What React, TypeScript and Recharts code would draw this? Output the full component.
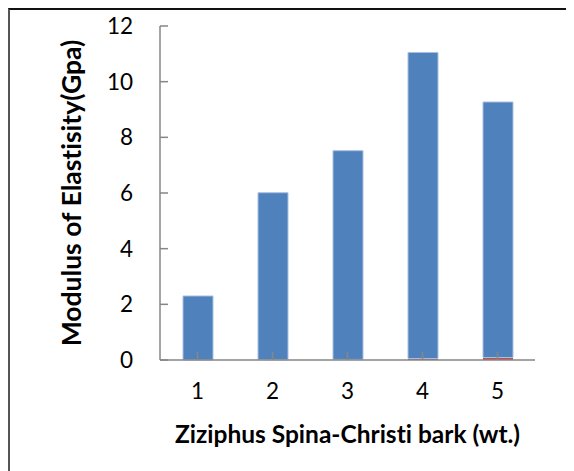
import React from 'react';
import { BarChart, Bar, XAxis, YAxis } from 'recharts';

const categories = ['1', '2', '3', '4', '5'];
const baseValues = [0, 0.01, 0.02, 0.05, 0.09];
const modulusValues = [2.3, 6.0, 7.5, 11.0, 9.18];
const yTicks = [0, 2, 4, 6, 8, 10, 12];

const data = categories.map((c, i) => ({ name: c, base: baseValues[i], modulus: modulusValues[i] }));

const font = 'Lato, "Open Sans", sans-serif';

export default function App() {
  return (
    <div style={{ width: 566, height: 463, borderTop: '2px solid #111', borderLeft: '2px solid #555', boxSizing: 'border-box', position: 'relative' }}>
      <div style={{ position: 'absolute', left: -2, top: -2 }}>
        <BarChart width={566} height={463} data={data} margin={{ top: 18, right: 39, left: 0, bottom: 0 }} barSize={30}>
          <XAxis
            dataKey="name"
            height={111}
            stroke="#868686"
            strokeWidth={1.5}
            tickSize={-8}
            tickMargin={31}
            tick={{ fontSize: 22.5, fill: '#000', fontFamily: font }}
            label={{ value: 'Ziziphus Spina-Christi bark (wt.)', position: 'insideTop', dy: 61, style: { fontSize: 24.5, fontWeight: 'bold', fill: '#000', fontFamily: font, fontVariantLigatures: 'none' } }}
          />
          <YAxis
            domain={[0, 12]}
            ticks={yTicks}
            width={152}
            stroke="#868686"
            strokeWidth={1.5}
            tickSize={-8}
            tickMargin={35}
            tick={{ fontSize: 22.5, fill: '#000', fontFamily: font }}
            label={{ value: 'Modulus of Elastisity(Gpa)', angle: -90, position: 'insideLeft', dx: 59, style: { fontSize: 26.5, fontWeight: 'bold', fill: '#000', fontFamily: font, textAnchor: 'middle', fontVariantLigatures: 'none' } }}
          />
          <Bar dataKey="base" stackId="a" fill="#c0504d" isAnimationActive={false} />
          <Bar dataKey="modulus" stackId="a" fill="#4f81bd" stroke="#a9c1e0" strokeWidth={1} isAnimationActive={false} />
        </BarChart>
      </div>
    </div>
  );
}
